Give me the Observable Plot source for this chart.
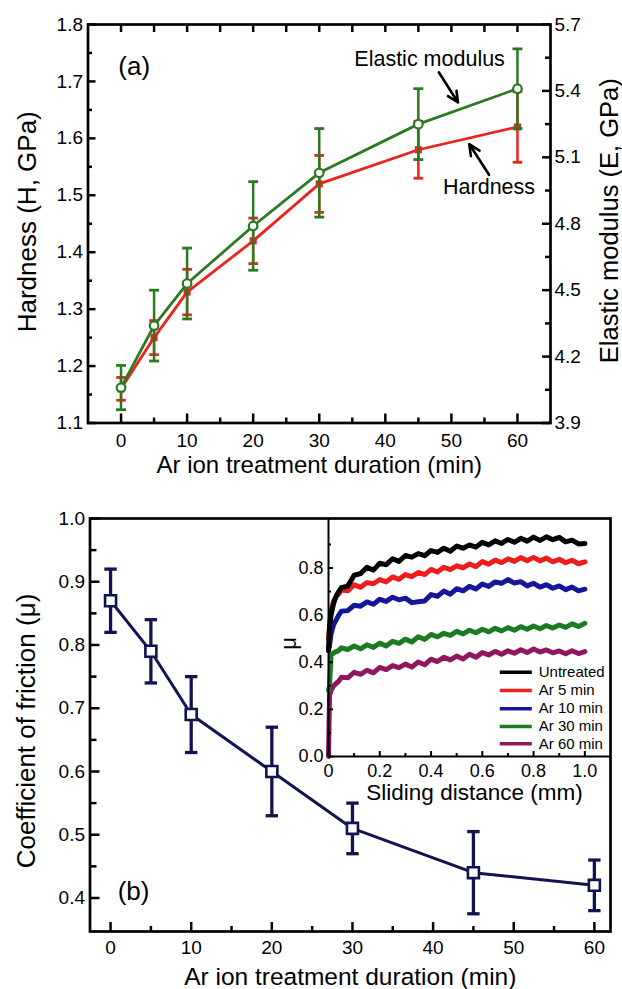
<!DOCTYPE html>
<html><head><meta charset="utf-8">
<script src="https://cdn.jsdelivr.net/npm/d3@7"></script>
<script src="https://cdn.jsdelivr.net/npm/@observablehq/plot@0.6"></script>
<style>
body{margin:0;background:#fff;}
#wrap{position:relative;width:622px;height:989px;overflow:hidden;background:#fff;}
#wrap svg{position:absolute;left:0;}
</style></head><body><div id="wrap"></div>
<script>
// ---------- data ----------
const durations = [0, 5, 10, 20, 30, 45, 60];
const hardness = [1.16, 1.25, 1.33, 1.42, 1.52, 1.58, 1.62];
const hardnessErr = [0.02, 0.03, 0.04, 0.04, 0.05, 0.05, 0.062];
const modulus = [4.06, 4.34, 4.53, 4.79, 5.03, 5.25, 5.41];
const modulusErr = [0.10, 0.16, 0.16, 0.20, 0.20, 0.16, 0.18];
const friction = [0.87, 0.79, 0.69, 0.60, 0.51, 0.44, 0.42];
const frictionErr = [0.05, 0.05, 0.06, 0.07, 0.04, 0.065, 0.04];

const slideX = [0, 0.004, 0.01, 0.02, 0.03, 0.04, 0.05, 0.075, 0.1, 0.125, 0.15, 0.175, 0.2, 0.225, 0.25, 0.275, 0.3, 0.325, 0.35, 0.375, 0.4, 0.425, 0.45, 0.475, 0.5, 0.525, 0.55, 0.575, 0.6, 0.625, 0.65, 0.675, 0.7, 0.725, 0.75, 0.775, 0.8, 0.825, 0.85, 0.875, 0.9, 0.925, 0.95, 0.975, 1.0];
const muUntreated = [0.45, .55, .60, .65, .68, .70, .716, .723, .769, .776, .803, .791, .82, .814, .839, .828, .853, .846, .861, .852, .874, .866, .884, .871, .893, .884, .898, .889, .909, .898, .915, .904, .921, .909, .926, .914, .931, .917, .932, .92, .93, .911, .918, .902, .904];
const muAr5 = [0.5, .55, .62, .66, .68, .69, .706, .703, .729, .718, .738, .733, .751, .741, .762, .752, .772, .763, .781, .772, .794, .783, .803, .793, .809, .801, .817, .806, .827, .816, .833, .823, .839, .828, .844, .831, .845, .83, .842, .826, .837, .822, .833, .818, .826];
const muAr10 = [0.45, .47, .52, .56, .58, .60, .616, .619, .642, .638, .656, .646, .667, .658, .676, .665, .672, .653, .657, .66, .687, .68, .702, .689, .712, .703, .722, .711, .732, .722, .741, .735, .751, .736, .742, .724, .735, .719, .729, .714, .724, .708, .719, .703, .71];
const muAr30 = [0.28, .30, .43, .44, .445, .45, .461, .454, .469, .457, .474, .463, .481, .469, .489, .48, .498, .486, .508, .497, .518, .508, .523, .514, .531, .52, .536, .525, .54, .529, .544, .533, .547, .536, .551, .54, .554, .542, .556, .545, .558, .548, .563, .552, .565];
const muAr60 = [0, .26, .28, .30, .31, .32, .336, .334, .357, .349, .366, .355, .378, .369, .386, .377, .392, .38, .401, .389, .413, .403, .421, .41, .426, .414, .434, .421, .441, .431, .446, .434, .449, .438, .453, .441, .456, .443, .452, .44, .448, .436, .449, .437, .445];
const seriesNames = ["Untreated", "Ar 5 min", "Ar 10 min", "Ar 30 min", "Ar 60 min"];
const seriesColors = ["#000000", "#ee1c1c", "#16169a", "#1d7a24", "#8e1760"];
const seriesValues = [muUntreated, muAr5, muAr10, muAr30, muAr60];

// tick labels
const tTicks = [0, 10, 20, 30, 40, 50, 60];
const tMinor = [5, 15, 25, 35, 45, 55];
const hTicks = [1.1, 1.2, 1.3, 1.4, 1.5, 1.6, 1.7, 1.8];
const hMinor = [1.15, 1.25, 1.35, 1.45, 1.55, 1.65, 1.75];
const eTicks = [3.9, 4.2, 4.5, 4.8, 5.1, 5.4, 5.7];
const eMinor = [4.05, 4.35, 4.65, 4.95, 5.25, 5.55];
const muTicks = [0.4, 0.5, 0.6, 0.7, 0.8, 0.9, 1.0];
const muMinor = [0.45, 0.55, 0.65, 0.75, 0.85, 0.95];
const sdTicks = [0, 0.2, 0.4, 0.6, 0.8, 1.0];
const sdMinor = [0.1, 0.3, 0.5, 0.7, 0.9];
const imuTicks = [0, 0.2, 0.4, 0.6, 0.8];
const imuMinor = [0.1, 0.3, 0.5, 0.7, 0.9];

// annotations (data units)
const annotTexts = [
  {x: 2.0, y: 1.726, text: "(a)", size: 26},
  {x: 46.7, y: 1.740, text: "Elastic modulus", size: 21.5},
  {x: 55.7, y: 1.5135, text: "Hardness", size: 21.5}
];
const annotArrows = [
  {x1: 48.1, y1: 1.716, x2: 51.0, y2: 1.663},
  {x1: 55.7, y1: 1.536, x2: 52.7, y2: 1.590}
];

// ---------- style / layout ----------
const FONT = "'Liberation Sans', Arial, Helvetica, sans-serif";
const RED = "#e8241c", GREEN = "#2b7a22", NAVY = "#121452";
const W = 622;
const A = {top: 0, height: 480, ml: 87.5, mr: 72, mt: 24, mb: 57.5};
const B = {top: 480, height: 509, ml: 89.5, mr: 12, mt: 38, mb: 58};
const I = {top: 480, height: 509, ml: 328, mr: 12, mt: 38, mb: 233};
const H_MIN = 1.1, H_MAX = 1.8, E_MIN = 3.9, E_MAX = 5.7;
const toH = e => H_MIN + (e - E_MIN) * (H_MAX - H_MIN) / (E_MAX - E_MIN);
const fromH = h => E_MIN + (h - H_MIN) * (E_MAX - E_MIN) / (H_MAX - H_MIN);

const capSymbol = {draw(ctx, size) { const w = Math.sqrt(size) / 2; ctx.moveTo(-w, 0); ctx.lineTo(w, 0); }};

function inner(L) { return {iw: W - L.ml - L.mr, ih: L.height - L.mt - L.mb}; }
function ticksBottom(L, vals, len, sw) { const {ih} = inner(L); return Plot.tickX(vals, {x: d => d, insetTop: ih - len, strokeWidth: sw, stroke: "#000"}); }
function ticksTop(L, vals, len, sw) { const {ih} = inner(L); return Plot.tickX(vals, {x: d => d, insetBottom: ih - len, strokeWidth: sw, stroke: "#000"}); }
function ticksLeft(L, vals, len, sw) { const {iw} = inner(L); return Plot.tickY(vals, {y: d => d, insetRight: iw - len, strokeWidth: sw, stroke: "#000"}); }
function ticksRight(L, vals, len, sw) { const {iw} = inner(L); return Plot.tickY(vals, {y: d => d, insetLeft: iw - len, strokeWidth: sw, stroke: "#000"}); }
function title(str, opts) { return Plot.text([str], {text: d => d, textAnchor: "middle", lineAnchor: "middle", ...opts}); }

function place(svg, L) { svg.style.position = "absolute"; svg.style.top = L.top + "px"; svg.style.left = "0px"; document.getElementById("wrap").appendChild(svg); }
const baseStyle = {fontFamily: FONT, fontSize: "19px", background: "transparent", color: "#000", overflow: "visible"};

// ---------- panel (a) ----------
const rowsA = durations.map((t, i) => ({
  t, H: hardness[i], Hlo: hardness[i] - hardnessErr[i], Hhi: hardness[i] + hardnessErr[i],
  E: toH(modulus[i]), Elo: toH(modulus[i] - modulusErr[i]), Ehi: toH(modulus[i] + modulusErr[i])
}));

const plotA = Plot.plot({
  width: W, height: A.height, marginLeft: A.ml, marginRight: A.mr, marginTop: A.mt, marginBottom: A.mb,
  style: baseStyle,
  x: {domain: [-5, 65]},
  y: {domain: [H_MIN, H_MAX]},
  marks: [
    Plot.axisX(tTicks, {tickSize: 0, tickPadding: 10, fontSize: 19, label: null, tickFormat: d => String(d)}),
    Plot.axisY(hTicks, {tickSize: 0, tickPadding: 5, fontSize: 19, label: null, tickFormat: d => d.toFixed(1)}),
    Plot.axisY(eTicks.map(toH), {anchor: "right", tickSize: 0, tickPadding: 4, fontSize: 19, label: null, tickFormat: d => fromH(d).toFixed(1)}),
    ticksBottom(A, tTicks, 9, 2.5), ticksBottom(A, tMinor, 5, 2.5),
    ticksTop(A, tTicks, 8, 2.5), ticksTop(A, tMinor, 8, 2.5),
    ticksLeft(A, hTicks, 8, 2.5), ticksLeft(A, hMinor, 4.5, 2.5),
    ticksRight(A, eTicks.map(toH), 8, 2.5), ticksRight(A, eMinor.map(toH), 5, 2.5),
    // hardness
    Plot.line(rowsA, {x: "t", y: "H", stroke: RED, strokeWidth: 2.8}),
    Plot.ruleX(rowsA, {x: "t", y1: "Hlo", y2: "Hhi", stroke: RED, strokeWidth: 2.5}),
    Plot.dot(rowsA, {x: "t", y: "Hlo", symbol: capSymbol, r: 5.4, stroke: RED, fill: "none", strokeWidth: 2.8}),
    Plot.dot(rowsA, {x: "t", y: "Hhi", symbol: capSymbol, r: 5.4, stroke: RED, fill: "none", strokeWidth: 2.8}),
    Plot.dot(rowsA, {x: "t", y: "H", symbol: "square", r: 4, fill: RED, stroke: "none"}),
    // elastic modulus
    Plot.line(rowsA, {x: "t", y: "E", stroke: GREEN, strokeWidth: 2.8}),
    Plot.ruleX(rowsA, {x: "t", y1: "Elo", y2: "Ehi", stroke: GREEN, strokeWidth: 2.5}),
    Plot.dot(rowsA, {x: "t", y: "Elo", symbol: capSymbol, r: 5.6, stroke: GREEN, fill: "none", strokeWidth: 2.8}),
    Plot.dot(rowsA, {x: "t", y: "Ehi", symbol: capSymbol, r: 5.6, stroke: GREEN, fill: "none", strokeWidth: 2.8}),
    Plot.dot(rowsA, {x: "t", y: "E", r: 4.3, fill: "#fff", stroke: GREEN, strokeWidth: 2.2}),
    // annotations
    Plot.text(annotTexts, {x: "x", y: "y", text: "text", fontSize: d => d.size, fill: "#000"}),
    Plot.arrow(annotArrows, {x1: "x1", y1: "y1", x2: "x2", y2: "y2", stroke: "#000", strokeWidth: 2.6, headLength: 12, headAngle: 50}),
    Plot.frame({stroke: "#000", strokeWidth: 2.7}),
    title("Hardness (H, GPa)", {frameAnchor: "left", rotate: -90, dx: -60.5, dy: -2, fontSize: 26}),
    title("Elastic modulus (E, GPa)", {frameAnchor: "right", rotate: -90, dx: 59, dy: -3, fontSize: 25.5}),
    title("Ar ion treatment duration (min)", {frameAnchor: "bottom", dy: 42, fontSize: 24})
  ]
});
place(plotA, A);

// ---------- panel (b) ----------
const rowsB = durations.map((t, i) => ({t, mu: friction[i], lo: friction[i] - frictionErr[i], hi: friction[i] + frictionErr[i]}));
const plotB = Plot.plot({
  width: W, height: B.height, marginLeft: B.ml, marginRight: B.mr, marginTop: B.mt, marginBottom: B.mb,
  style: baseStyle,
  x: {domain: [-2.55, 62]},
  y: {domain: [0.347, 1.0]},
  marks: [
    Plot.axisX(tTicks, {tickSize: 0, tickPadding: 9, fontSize: 19, label: null, tickFormat: d => String(d)}),
    Plot.axisY(muTicks, {tickSize: 0, tickPadding: 5, fontSize: 19, label: null, tickFormat: d => d.toFixed(1)}),
    ticksBottom(B, tTicks, 9, 2.5), ticksBottom(B, tMinor, 5, 2.5),
    ticksLeft(B, muTicks, 10, 2.5), ticksLeft(B, muMinor, 7, 2.5),
    Plot.line(rowsB, {x: "t", y: "mu", stroke: NAVY, strokeWidth: 3}),
    Plot.ruleX(rowsB, {x: "t", y1: "lo", y2: "hi", stroke: NAVY, strokeWidth: 3.3}),
    Plot.dot(rowsB, {x: "t", y: "lo", symbol: capSymbol, r: 7, stroke: NAVY, fill: "none", strokeWidth: 3.3}),
    Plot.dot(rowsB, {x: "t", y: "hi", symbol: capSymbol, r: 7, stroke: NAVY, fill: "none", strokeWidth: 3.3}),
    Plot.dot(rowsB, {x: "t", y: "mu", symbol: "square", r: 6.2, fill: "#fff", stroke: NAVY, strokeWidth: 2.6}),
    Plot.text(["(b)"], {x: 2.85, y: 0.41, text: d => d, fontSize: 26}),
    Plot.frame({stroke: "#000", strokeWidth: 2.7}),
    title("Coefficient of friction (\u03bc)", {frameAnchor: "left", rotate: -90, dx: -63.5, dy: 6, fontSize: 26}),
    title("Ar ion treatment duration (min)", {frameAnchor: "bottom", dy: 46, fontSize: 24.5})
  ]
});
place(plotB, B);

// ---------- inset ----------
const insetRows = [];
for (let s = seriesValues.length - 1; s >= 0; s--) {
  seriesValues[s].forEach((v, i) => insetRows.push({x: slideX[i], mu: v, name: seriesNames[s]}));
}
const legendRows = seriesNames.map((n, i) => ({name: n, color: seriesColors[i], y: [0.358, 0.28, 0.203, 0.127, 0.054][i]}));
const plotI = Plot.plot({
  width: W, height: I.height, marginLeft: I.ml, marginRight: I.mr, marginTop: I.mt, marginBottom: I.mb,
  style: baseStyle,
  x: {domain: [0, 1.1]},
  y: {domain: [0, 1.01]},
  color: {domain: seriesNames, range: seriesColors},
  marks: [
    Plot.axisX(sdTicks, {tickSize: 0, tickPadding: 8, fontSize: 18, label: null, tickFormat: d => d === 0 ? "0" : d.toFixed(1)}),
    Plot.axisY(imuTicks, {tickSize: 0, tickPadding: 5, fontSize: 18, label: null, tickFormat: d => d.toFixed(1)}),
    Plot.line(insetRows, {x: "x", y: "mu", z: "name", stroke: "name", strokeWidth: 5, strokeLinejoin: "round"}),
    ticksBottom(I, sdTicks, 5, 2), ticksBottom(I, sdMinor, 3, 2),
    ticksLeft(I, imuTicks, 5, 2), ticksLeft(I, imuMinor, 3, 2),
    Plot.ruleX([0], {stroke: "#000", strokeWidth: 2}),
    Plot.ruleY([0], {stroke: "#000", strokeWidth: 2}),
    Plot.link(legendRows, {x1: 0.668, x2: 0.793, y1: "y", y2: "y", stroke: "color", strokeWidth: 3.5}),
    Plot.text(legendRows, {x: 0.82, y: "y", text: "name", textAnchor: "start", fontSize: 15}),
    title("\u03bc", {frameAnchor: "left", rotate: -90, dx: -40, dy: 6, fontSize: 22}),
    title("Sliding distance (mm)", {frameAnchor: "bottom", dx: 5, dy: 36, fontSize: 22.5})
  ]
});
place(plotI, I);
</script></body></html>
